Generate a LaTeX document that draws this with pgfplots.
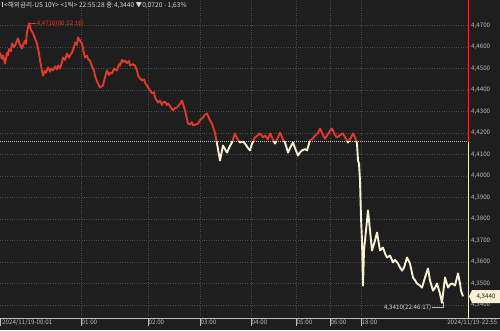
\documentclass[border=0pt]{standalone}
\usepackage{pgfplots}
\usepackage{pgfplotstable}
\pgfplotsset{compat=1.18}
\usepackage{fontspec}
\setmainfont{Noto Sans CJK KR}
\definecolor{bg}{HTML}{1E1E1E}
\definecolor{gridc}{HTML}{4A4A4A}
\definecolor{redl}{HTML}{E23A28}
\definecolor{cream}{HTML}{F5F1D2}
\definecolor{lab}{HTML}{BDBDBD}

\pgfplotstableread{
x y
0 4.4574
2 4.4545
3 4.4560
5 4.4523
7 4.4574
8 4.4560
9 4.4590
11 4.4580
12 4.4616
14 4.4600
15 4.4607
17 4.4630
18 4.4640
20 4.4610
22 4.4593
24 4.4620
25 4.4630
26 4.4615
27 4.4670
29 4.4710
31 4.4680
33 4.4663
35 4.4640
37 4.4616
39 4.4570
40 4.4537
42 4.4490
43 4.4467
45 4.4490
46 4.4480
48 4.4505
50 4.4485
51 4.4500
53 4.4491
55 4.4510
57 4.4495
58 4.4514
60 4.4500
62 4.4530
63 4.4551
65 4.4540
67 4.4570
69 4.4550
70 4.4560
72 4.4574
74 4.4600
75 4.4621
77 4.4610
78 4.4644
80 4.4630
82 4.4616
84 4.4570
85 4.4551
87 4.4560
88 4.4545
90 4.4537
92 4.4510
94 4.4490
95 4.4467
97 4.4440
100 4.4412
103 4.4421
105 4.4460
107 4.4491
109 4.4470
110 4.4480
112 4.4477
114 4.4500
115 4.4495
117 4.4491
119 4.4520
120 4.4514
122 4.4540
123 4.4530
125 4.4537
127 4.4525
129 4.4535
130 4.4514
133 4.4520
135 4.4514
137 4.4490
138 4.4467
140 4.4455
142 4.4444
144 4.4450
145 4.4435
147 4.4420
150 4.4398
152 4.4385
154 4.4390
155 4.4365
158 4.4342
160 4.4350
162 4.4330
163 4.4342
165 4.4345
167 4.4330
168 4.4337
170 4.4325
173 4.4305
175 4.4315
177 4.4319
180 4.4335
182 4.4351
184 4.4320
185 4.4305
188 4.4244
190 4.4240
192 4.4250
193 4.4235
196 4.4240
198 4.4244
200 4.4260
203 4.4272
205 4.4285
207 4.4291
210 4.4258
212 4.4244
215 4.4200
217 4.4151
220 4.4072
223 4.4142
225 4.4125
227 4.4109
230 4.4140
232 4.4156
235 4.4198
237 4.4175
240 4.4156
243 4.4160
245 4.4151
248 4.4130
250 4.4119
252 4.4150
255 4.4179
258 4.4190
260 4.4198
263 4.4180
265 4.4188
268 4.4170
270 4.4198
273 4.4170
275 4.4151
278 4.4180
280 4.4202
283 4.4170
285 4.4156
288 4.4109
290 4.4130
293 4.4156
295 4.4130
298 4.4095
300 4.4110
302 4.4119
305 4.4125
307 4.4119
310 4.4165
313 4.4175
315 4.4188
318 4.4200
320 4.4221
323 4.4190
325 4.4174
328 4.4195
330 4.4210
332 4.4221
335 4.4190
337 4.4179
340 4.4190
343 4.4198
345 4.4180
348 4.4156
350 4.4170
353 4.4198
355 4.4180
357 4.4151
358 4.4072
359 4.4058
360 4.3979
361 4.3807
362 4.3700
363 4.3490
364 4.3654
366 4.3747
368 4.3840
370 4.3747
372 4.3654
375 4.3700
377 4.3737
380 4.3654
383 4.3667
385 4.3640
387 4.3621
390 4.3630
393 4.3598
395 4.3610
398 4.3593
400 4.3575
402 4.3560
404 4.3574
407 4.3621
410 4.3593
413 4.3528
415 4.3515
417 4.3500
420 4.3490
422 4.3481
425 4.3528
428 4.3570
430 4.3514
433 4.3467
435 4.3480
437 4.3500
440 4.3453
442 4.3410
445 4.3528
448 4.3481
450 4.3495
452 4.3500
455 4.3491
458 4.3547
460 4.3500
461 4.3467
463 4.3440
}\datatable

\begin{document}
\begin{tikzpicture}[font=\fontsize{6.2}{7}\selectfont]
\fill[bg] (0pt,-12pt) rectangle (500pt,318pt);
\pgfplotsset{base/.style={x=1pt, y=2150pt, xmin=0, xmax=468,
  axis line style={draw=none}, anchor=south west}}

% frame axis: grid, ticks, labels
\begin{axis}[base, at={(0pt,0pt)}, ymin=4.333953, ymax=4.48186, clip=false,
  xtick={81,148,200,251,296,330,361},
  xticklabels={01:00,02:00,03:00,04:00,05:00,06:00,18:00},
  xticklabel style={anchor=north west, inner sep=0.5pt, text=lab, yshift=-1pt},
  ytick={4.34,4.35,4.36,4.37,4.38,4.39,4.40,4.41,4.42,4.43,4.44,4.45,4.46,4.47},
  yticklabel pos=right,
  yticklabel style={text=lab, anchor=west, inner sep=1pt, xshift=2pt,
    /pgf/number format/.cd, fixed, fixed zerofill, precision=4, use comma, assume math mode=true},
  major tick length=0pt,
  grid=major, grid style={gridc, dotted, line width=0.45pt},
  ]
  \draw[lab, dash pattern=on 1pt off 1pt, line width=0.5pt] (axis cs:0,4.416) -- (axis cs:468,4.416);
  \draw[redl, line width=0.5pt] (axis cs:29,4.4710) -- (axis cs:36,4.4710)
     node[right, inner sep=0.5pt, text=redl]{4,4710(00:22:16)};
  \draw[lab, line width=0.5pt] (axis cs:443,4.3412) -- (axis cs:443,4.3388) -- (axis cs:432,4.3388)
     node[left, inner sep=0.5pt, text=white!85!black]{4,3410(22:46:17)};
\end{axis}

% red part (above previous close)
\begin{axis}[base, hide axis, at={(0pt,176.401pt)}, ymin=4.416, ymax=4.48186]
  \addplot[redl, line width=1.9pt, line join=round] table[x=x,y=y] {\datatable};
\end{axis}
% cream part (below previous close)
\begin{axis}[base, hide axis, at={(0pt,0pt)}, ymin=4.333953, ymax=4.416]
  \addplot[cream, line width=1.9pt, line join=round] table[x=x,y=y] {\datatable};
\end{axis}

% right border line
\draw[redl, line width=0.9pt] (468pt,176.4pt) -- (468pt,318pt);
\draw[cream, line width=0.9pt] (468pt,0pt) -- (468pt,176.4pt);
% bottom axis line and ticks
\draw[lab, line width=0.6pt] (0pt,0pt) -- (500pt,0pt);
\foreach \t in {0.5,81,148,200,251,296,330,361}
  \draw[lab, line width=0.45pt] (\t pt,0pt) -- (\t pt,-8pt);
\node[anchor=north west, inner sep=0.5pt, text=lab] at (1.5pt,-1pt) {2024/11/19-00:01};
\node[anchor=north east, inner sep=0.5pt, text=lab] at (498pt,-1pt) {2024/11/19-22:55};
% last price box
\fill[cream] (469pt,21.6pt) -- (472pt,28pt) -- (500pt,28pt) -- (500pt,15pt) -- (472pt,15pt) -- cycle;
\node[text=bg, inner sep=0pt] at (486pt,21.6pt) {4,3440};
% title
\fill[white!85!black] (1.5pt,310.5pt) rectangle (2.7pt,315.5pt);
\node[anchor=west, inner sep=0pt, text=white!85!black, font=\fontsize{6.6}{7}\selectfont] at (4pt,313pt)
  {<해외금리-US 10Y> <1틱> 22:55:28 종:4,3440 ▼0,0720 - 1,63\%};
\pgfresetboundingbox
\path[use as bounding box] (0pt,-12pt) rectangle (500pt,318pt);
\end{tikzpicture}
\end{document}
